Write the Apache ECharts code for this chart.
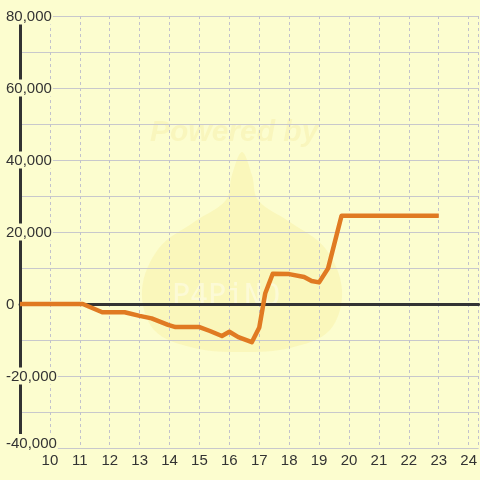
<!DOCTYPE html>
<html>
<head>
<meta charset="utf-8">
<script src="https://cdn.jsdelivr.net/npm/echarts@6/dist/echarts.min.js"></script>
<style>html,body{margin:0;padding:0;background:#fcfdcf;}#c{width:480px;height:480px;}</style>
</head>
<body>
<div id="c"></div>
<script>
// Data
const xValues = [9, 11, 11.1, 11.75, 12.5, 13, 13.4, 13.95, 14.2, 15, 15.35, 15.75, 16, 16.3, 16.75, 17, 17.2, 17.45, 18, 18.5, 18.75, 19, 19.3, 19.75, 23];
const yValues = [0, 0, 0, -2300, -2300, -3300, -4000, -5800, -6400, -6400, -7500, -8900, -7700, -9200, -10600, -6500, 3000, 8400, 8300, 7500, 6400, 6000, 9900, 24500, 24500];
const xTicks = [10, 11, 12, 13, 14, 15, 16, 17, 18, 19, 20, 21, 22, 23, 24];
const yTicks = [-40000, -20000, 0, 20000, 40000, 60000, 80000];

const BG = '#fcfdcf';
const chart = echarts.init(document.getElementById('c'), null, {renderer: 'canvas'});
const fmt = v => v.toLocaleString('en-US');
const seriesData = xValues.map((x, i) => [x, yValues[i]]);

chart.setOption({
  backgroundColor: BG,
  animation: false,
  textStyle: {fontFamily: 'Liberation Sans, Arial, sans-serif'},
  grid: {left: 20, right: 0, top: 16, bottom: 32, containLabel: false},
  graphic: [
    {type: 'polygon', z: -1, silent: true,
      shape: {smooth: 0.35, points: [[242,152],[252,175],[258,200],[290,222],[325,248],[342,290],[330,330],[290,348],[242,352],[194,348],[154,330],[142,290],[159,248],[194,222],[226,200],[232,175]]},
      style: {fill: 'rgba(246,224,110,0.2)'}},
    {type: 'text', z: -1, silent: true, left: 150, top: 118,
      style: {text: 'Powered by', fill: 'rgba(240,215,110,0.18)', font: 'italic bold 30px Liberation Sans, Arial, sans-serif'}},
    {type: 'text', z: -1, silent: true, left: 172, top: 282,
      style: {text: 'P4PiNO', fill: 'rgba(255,255,255,0.4)', font: '30px DejaVu Sans Mono, monospace'}}
  ],
  xAxis: [
    {type: 'value', min: 9, max: 24.333, interval: 1, position: 'bottom', z: 0,
      axisLine: {show: false}, axisTick: {show: false},
      axisLabel: {show: true, fontSize: 15, color: '#333', margin: 5, showMaxLabel: false,
        formatter: v => (xTicks.indexOf(v) >= 0 ? String(v) : '')},
      splitLine: {show: true, lineStyle: {color: '#c2c2cc', width: 1, type: [3, 3]}}},
    {type: 'value', min: 9, max: 24.333, position: 'bottom', z: 1,
      axisLine: {show: true, onZero: true, lineStyle: {color: '#333', width: 3}},
      axisTick: {show: false}, axisLabel: {show: false}, splitLine: {show: false}}
  ],
  yAxis: [
    {type: 'value', min: -40000, max: 80000, interval: 10000, position: 'left', z: 0,
      axisLine: {show: false}, axisTick: {show: false}, axisLabel: {show: false},
      splitLine: {show: true, lineStyle: {color: '#c8c8cc', width: 1}}},
    {type: 'value', min: -40000, max: 80000, interval: 20000, position: 'left', z: 1,
      axisLine: {show: true, onZero: false, lineStyle: {color: '#333', width: 3}},
      axisTick: {show: false}, splitLine: {show: false},
      axisLabel: {show: true, fontSize: 15, color: '#333', align: 'left', margin: 14,
        formatter: v => {
          if (yTicks.indexOf(v) < 0) return '';
          return v === yTicks[0] ? '{n|' + fmt(v) + '}\n{sp| }' : '{n|' + fmt(v) + '}';
        },
        rich: {
          n: {fontSize: 15, color: '#333', backgroundColor: BG, padding: [2, 1, 0, 0]},
          sp: {fontSize: 4, lineHeight: 11}
        }}}
  ],
  series: [{
    type: 'line', xAxisIndex: 0, yAxisIndex: 0, z: 3,
    data: seriesData, showSymbol: false, smooth: false,
    lineStyle: {color: '#e07a22', width: 4.5, join: 'round'},
    itemStyle: {color: '#e07a22'}
  }]
});
</script>
</body>
</html>
